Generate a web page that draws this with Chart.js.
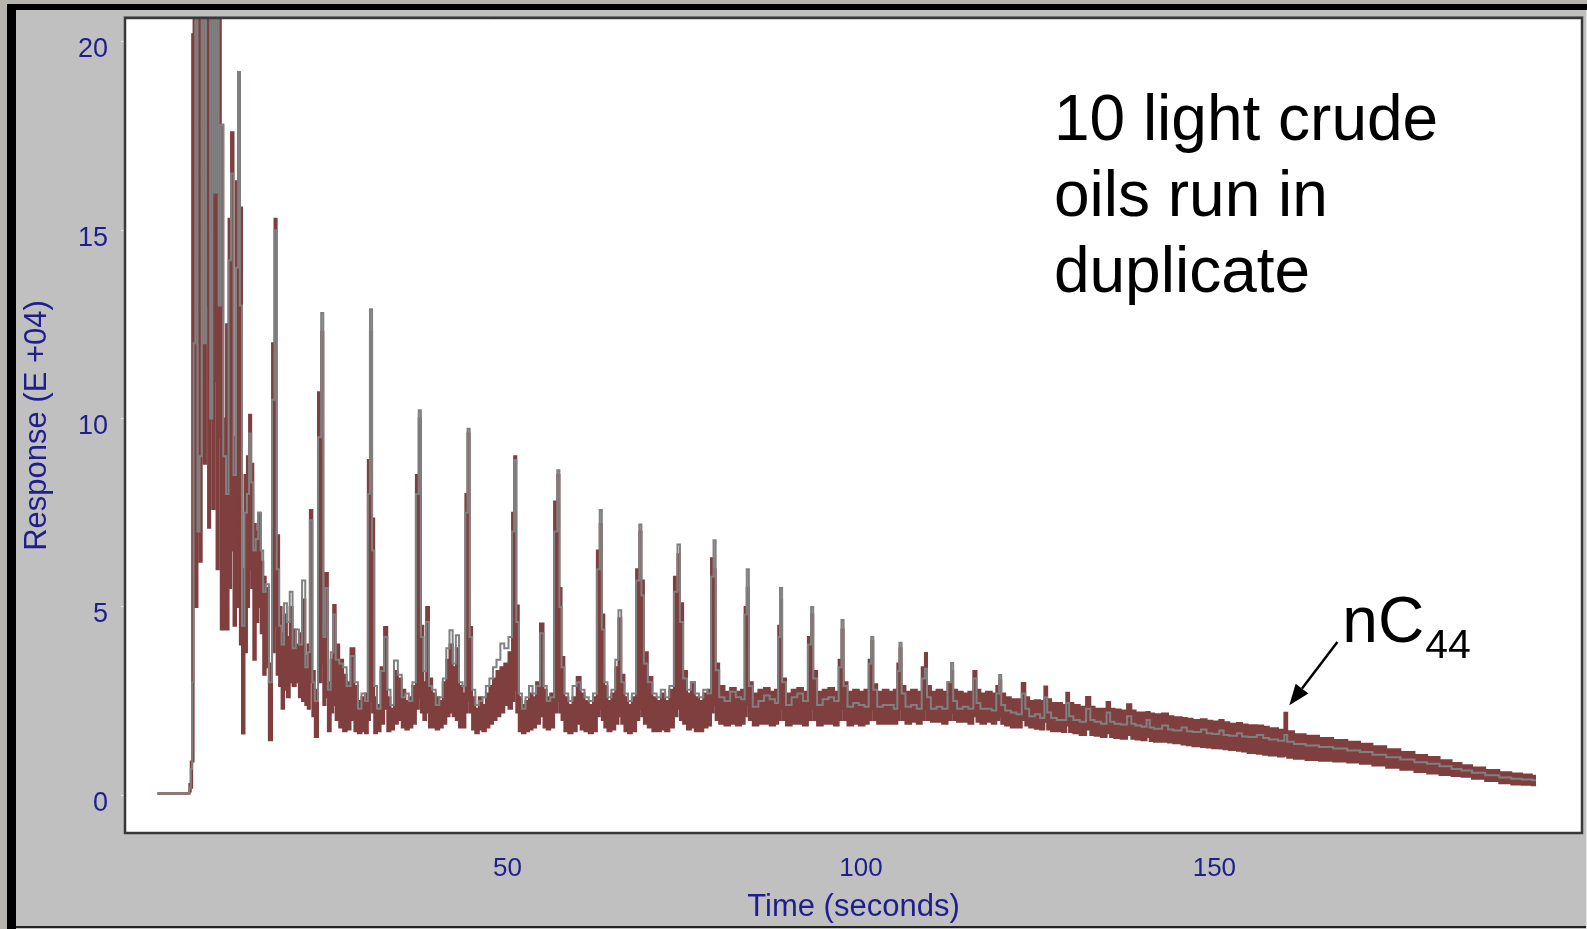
<!DOCTYPE html>
<html>
<head>
<meta charset="utf-8">
<script src="https://cdn.jsdelivr.net/npm/chart.js@4.4.1/dist/chart.umd.min.js"></script>
<style>
  html, body { margin: 0; padding: 0; background: #c0c0c0; overflow: hidden; }
  #wrap { width: 1587px; height: 929px; }
</style>
</head>
<body>
<div id="wrap"><canvas id="chart" width="1587" height="929"></canvas></div>
<script>
// ---- Data ----
const times = [
  0.5, 4.9, 5.1, 5.3, 5.5,
  5.7, 6.0, 6.3, 6.6, 6.9, 7.2, 7.5,
  7.8, 8.1, 8.4, 8.7, 9.0, 9.3, 9.6,
  10.0, 10.4, 10.7, 11.1, 11.4, 11.8, 12.0, 12.3, 12.6, 13.0,
  13.3, 13.6, 13.9, 14.2, 14.6, 14.9, 15.3, 15.6, 16.0, 16.5,
  16.9, 17.2, 17.5, 17.9, 18.2, 18.6, 19.0, 19.4, 19.8, 20.3,
  20.7, 21.2, 21.6, 21.9, 22.2, 22.6, 22.9, 23.5, 23.8, 24.1,
  24.4, 24.8, 25.2, 25.5, 25.9, 26.5, 27.0, 27.5, 28.1, 28.6,
  29.1, 29.6, 30.1, 30.4, 30.7, 31.0, 31.3, 31.8, 32.3, 32.8,
  33.2, 33.7, 34.2, 34.8, 35.3, 35.8, 36.3, 36.8, 37.3, 37.6,
  37.9, 38.3, 38.7, 39.1, 39.6, 40.1, 40.6, 41.1, 41.6, 42.0,
  42.5, 42.9, 43.4, 43.9, 44.2, 44.5, 44.8, 45.2, 45.7, 46.2,
  46.7, 47.2, 47.7, 48.2, 48.7, 49.3, 49.8, 50.5, 50.8, 51.1,
  51.4, 51.8, 52.3, 52.8, 53.3, 53.8, 54.3, 54.9, 55.3, 55.8,
  56.3, 56.9, 57.2, 57.5, 57.8, 58.3, 58.9, 59.5, 60.1, 60.6,
  61.2, 61.8, 62.4, 62.9, 63.2, 63.5, 63.9, 64.4, 65.0, 65.5,
  65.9, 66.3, 66.8, 67.3, 67.9, 68.5, 68.8, 69.1, 69.5, 70.2,
  70.8, 71.4, 72.0, 72.6, 73.2, 73.9, 74.2, 74.6, 75.1, 75.7,
  76.2, 76.8, 77.4, 78.0, 78.6, 79.0, 79.3, 79.6, 80.3, 81.1,
  81.9, 82.7, 83.4, 83.7, 84.0, 84.3, 85.1, 85.9, 86.7, 87.5,
  88.2, 88.4, 88.7, 89.0, 89.8, 90.6, 91.4, 92.2, 92.8, 93.1,
  93.4, 94.2, 95.0, 95.8, 96.6, 97.1, 97.4, 97.7, 98.5, 99.3,
  100.1, 100.9, 101.3, 101.6, 101.9, 102.7, 103.5, 104.3, 105.0, 105.3,
  105.6, 105.9, 106.7, 107.5, 108.3, 108.9, 109.2, 109.5, 110.3, 111.1,
  111.9, 112.6, 112.9, 113.2, 114.0, 114.8, 115.6, 116.2, 116.5, 117.3,
  118.1, 118.9, 119.4, 119.7, 120.0, 120.8, 121.6, 122.4, 123.1, 123.4,
  124.2, 125.0, 125.7, 126.2, 126.5, 127.3, 128.1, 128.8, 129.3, 129.6,
  130.5, 131.4, 132.3, 132.6, 133.5, 134.4, 135.1, 135.4, 136.3, 137.2,
  138.1, 138.4, 139.3, 140.1, 140.7, 141.0, 141.9, 143.3, 143.6, 144.8,
  145.9, 146.3, 147.5, 148.7, 149.1, 150.3, 151.1, 151.5, 152.7, 153.7,
  154.1, 155.3, 156.7, 157.1, 158.3, 159.7, 160.1, 160.5, 162.0, 163.8,
  165.8, 167.8, 169.8, 171.4, 173.3, 175.3, 177.3, 179.3, 180.9, 182.8,
  184.3, 185.6, 187.3, 189.3, 191.3, 192.7, 194.3, 195.5
];

// upper envelope of the brown (duplicate-run) traces
const upperRed = [
  0.05, 0.05, 0.3, 0.9, 20.2,
  25, 25, 25, 25, 25, 25, 25,
  25, 25, 25, 25, 25, 25, 17.8,
  10, 12.5, 15.3, 17.6, 9.5, 16.3, 19.2, 15.6, 6, 8.5,
  9.0, 10.1, 8.8, 7.2, 7.0, 7.5, 6.2, 5.8, 5.5, 3.5,
  12.0, 15.3, 6.9, 5.0, 4.3, 4.8, 4.2, 5.0, 4.4, 4.0,
  4.3, 5.2, 3.7, 4.0, 7.57, 3.3, 2.8, 10.7, 12.3, 4.5,
  5.9, 3.0, 3.6, 5.05, 4.0, 3.6, 3.2, 3.0, 3.9, 2.9,
  2.5, 2.6, 2.7, 8.9, 12.3, 7.35, 2.6, 2.4, 3.4, 4.47,
  2.6, 2.3, 3.3, 3.1, 2.8, 2.5, 2.6, 2.9, 8.5, 10.0,
  4.5, 3.0, 5.0, 3.1, 2.7, 2.6, 2.5, 3.0, 3.6, 4.0,
  3.4, 3.9, 2.9, 2.7, 8.0, 9.6, 4.47, 2.6, 2.3, 2.6,
  2.4, 2.7, 2.9, 3.1, 3.3, 3.4, 3.5, 3.8, 7.5, 9.0,
  5.04, 2.6, 2.4, 2.5, 2.7, 2.6, 3.0, 4.56, 2.8, 2.6,
  2.7, 7.8, 8.5, 5.5, 3.67, 2.6, 2.4, 2.6, 3.14, 2.7,
  2.5, 2.4, 2.6, 6.5, 7.2, 4.8, 2.9, 2.5, 2.7, 3.4,
  4.7, 3.2, 2.6, 2.4, 2.6, 6.0, 7.0, 5.7, 3.8, 3.14,
  2.6, 2.5, 2.7, 2.5, 2.8, 5.8, 6.4, 5.1, 3.3, 2.7,
  3.0, 2.6, 2.5, 2.7, 2.8, 6.29, 6.0, 3.5, 2.9, 2.75,
  2.85, 2.75, 2.8, 5.0, 5.5, 3.0, 2.7, 2.8, 2.85, 2.75,
  2.8, 4.5, 5.2, 3.1, 2.7, 2.8, 2.85, 2.75, 4.2, 4.8,
  3.3, 2.75, 2.8, 2.85, 2.75, 3.6, 4.4, 3.0, 2.75, 2.8,
  2.75, 2.8, 3.6, 4.1, 2.95, 2.75, 2.8, 2.75, 2.8, 3.5,
  3.9, 2.9, 2.75, 2.8, 2.75, 3.4, 3.78, 2.9, 2.75, 2.8,
  2.75, 3.0, 3.3, 2.8, 2.75, 2.7, 2.75, 3.3, 2.8, 2.7,
  2.75, 2.7, 2.9, 3.05, 2.7, 2.6, 2.55, 2.55, 2.98, 2.6,
  2.5, 2.52, 2.5, 2.89, 2.55, 2.45, 2.45, 2.4, 2.72, 2.45,
  2.4, 2.35, 2.61, 2.35, 2.3, 2.3, 2.48, 2.3, 2.28, 2.25,
  2.42, 2.25, 2.2, 2.2, 2.21, 2.17, 2.15, 2.17, 2.1, 2.07,
  2.05, 2.03, 2.0, 2.02, 1.98, 1.96, 2.0, 1.94, 1.9, 1.92,
  1.88, 1.86, 1.85, 1.82, 1.78, 1.74, 2.19, 1.7, 1.62, 1.58,
  1.52, 1.47, 1.42, 1.37, 1.3, 1.22, 1.15, 1.07, 1.02, 0.93,
  0.86, 0.8, 0.74, 0.67, 0.61, 0.58, 0.55, 0.52
];

// lower envelope of the brown traces
const lowerRed = [
  0.05, 0.05, 0.1, 0.2, 0.9,
  18.6, 5.0, 12, 6.2, 16, 8.8, 13,
  7.1, 15, 7.6, 11, 6.0, 9.5, 4.4,
  4.4, 4.4, 5.5, 6.5, 4.5, 5.0, 8, 4.0, 1.64, 3.8,
  5.0, 6.0, 5.5, 3.6, 4.6, 5.0, 4.3, 3.2, 3.4, 1.46,
  3.8, 4.5, 3.2, 2.9, 2.3, 2.8, 2.6, 3.0, 2.9, 3.0,
  2.6, 2.5, 2.4, 2.3, 3.0, 2.1, 1.55, 3.0, 3.5, 2.4,
  2.6, 1.7, 2.2, 2.4, 2.0, 1.8, 1.7, 1.75, 2.0, 1.7,
  1.65, 1.7, 1.65, 2.0, 2.5, 2.2, 1.65, 1.7, 1.9, 2.3,
  1.7, 1.75, 1.9, 2.0, 1.8, 1.75, 1.8, 1.9, 2.3, 2.6,
  2.2, 2.0, 2.2, 1.8, 1.8, 1.75, 1.8, 1.9, 2.1, 2.2,
  2.1, 2.0, 1.8, 1.8, 2.2, 2.5, 2.2, 1.75, 1.65, 1.75,
  1.7, 1.8, 1.9, 2.0, 2.1, 2.2, 2.4, 2.3, 2.5, 2.8,
  2.2, 1.7, 1.65, 1.7, 1.75, 1.8, 1.9, 2.1, 1.8, 1.75,
  1.8, 2.2, 2.5, 2.2, 2.0, 1.7, 1.65, 1.7, 1.9, 1.75,
  1.7, 1.65, 1.7, 2.1, 2.3, 2.0, 1.8, 1.7, 1.75, 1.9,
  2.1, 1.9, 1.7, 1.65, 1.7, 2.0, 2.3, 2.1, 1.9, 1.8,
  1.7, 1.7, 1.75, 1.7, 1.8, 2.1, 2.3, 2.0, 1.9, 1.75,
  1.8, 1.7, 1.7, 1.8, 1.85, 2.2, 2.4, 2.0, 1.9, 1.85,
  1.9, 1.85, 1.9, 2.1, 2.4, 2.0, 1.85, 1.9, 1.9, 1.85,
  1.9, 2.0, 2.3, 2.0, 1.85, 1.9, 1.9, 1.85, 2.0, 2.3,
  2.0, 1.85, 1.9, 1.9, 1.85, 2.0, 2.3, 2.0, 1.85, 1.9,
  1.85, 1.9, 2.0, 2.3, 2.0, 1.9, 1.9, 1.9, 1.9, 2.0,
  2.3, 2.0, 1.9, 1.95, 1.9, 2.0, 2.3, 2.0, 1.95, 1.95,
  1.9, 2.0, 2.2, 2.0, 1.95, 1.95, 1.9, 2.1, 1.95, 1.9,
  1.95, 1.9, 2.0, 2.1, 1.9, 1.85, 1.8, 1.8, 2.0, 1.85,
  1.8, 1.77, 1.75, 1.95, 1.75, 1.7, 1.7, 1.68, 1.85, 1.68,
  1.65, 1.6, 1.75, 1.6, 1.58, 1.55, 1.65, 1.55, 1.52, 1.5,
  1.6, 1.5, 1.48, 1.46, 1.55, 1.44, 1.42, 1.42, 1.4, 1.38,
  1.35, 1.33, 1.3, 1.28, 1.27, 1.25, 1.24, 1.22, 1.2, 1.18,
  1.16, 1.12, 1.1, 1.08, 1.06, 1.03, 1.05, 1.0, 0.97, 0.94,
  0.92, 0.9, 0.87, 0.84, 0.79, 0.73, 0.68, 0.62, 0.58, 0.54,
  0.51, 0.49, 0.44, 0.38, 0.32, 0.29, 0.28, 0.27
];

// grey trace running through the band
const grayTrace = [
  0.05, 0.05, 0.2, 0.7, 3.0,
  12, 25, 7, 9, 25, 12, 25,
  25, 10, 25, 16, 25, 13, 17.8,
  9, 8, 14.2, 16.5, 8.5, 14, 19.2, 13, 4.5, 7.5,
  8.0, 9.6, 8.3, 6.5, 6.8, 7.5, 6.5, 5.4, 5.6, 3.0,
  10.5, 15.0, 6.0, 4.5, 4.0, 5.1, 4.6, 5.4, 3.9, 4.4,
  4.0, 5.7, 3.4, 3.8, 7.3, 3.0, 2.5, 9.5, 12.8, 4.2,
  5.5, 2.8, 3.8, 4.8, 3.6, 3.5, 3.4, 2.9, 3.7, 3.0,
  2.3, 2.7, 2.5, 8.0, 12.9, 6.5, 2.9, 2.3, 3.3, 4.2,
  2.8, 2.4, 3.58, 3.2, 2.6, 2.7, 2.5, 3.0, 8.0, 10.22,
  4.2, 3.3, 4.6, 2.9, 2.8, 2.4, 2.6, 3.1, 3.9, 4.38,
  3.5, 4.25, 3.0, 2.9, 7.5, 9.73, 4.2, 2.8, 2.4, 2.5,
  2.6, 2.9, 3.1, 3.4, 3.6, 4.03, 3.9, 4.2, 7.0, 8.9,
  4.6, 2.7, 2.3, 2.6, 2.9, 2.7, 2.9, 4.3, 2.9, 2.5,
  2.6, 7.0, 8.63, 5.0, 3.4, 2.7, 2.5, 2.9, 3.0, 2.8,
  2.6, 2.5, 2.7, 6.0, 7.57, 4.4, 3.0, 2.6, 2.8, 3.6,
  4.91, 3.0, 2.7, 2.5, 2.7, 5.7, 7.19, 5.3, 3.5, 3.0,
  2.7, 2.6, 2.8, 2.6, 2.9, 5.4, 6.66, 4.6, 3.1, 2.8,
  3.0, 2.7, 2.6, 2.8, 2.7, 5.8, 6.77, 3.32, 2.6, 2.5,
  2.75, 2.6, 2.55, 4.8, 6.0, 2.9, 2.35, 2.5, 2.65, 2.55,
  2.45, 4.2, 5.5, 3.0, 2.4, 2.6, 2.7, 2.5, 4.0, 5.0,
  3.1, 2.4, 2.55, 2.6, 2.5, 3.4, 4.65, 2.9, 2.35, 2.45,
  2.4, 2.35, 3.5, 4.2, 2.8, 2.35, 2.4, 2.4, 2.3, 3.3,
  4.05, 2.7, 2.35, 2.4, 2.3, 3.1, 3.36, 2.6, 2.3, 2.35,
  2.3, 3.0, 3.51, 2.5, 2.3, 2.35, 2.3, 3.1, 2.45, 2.3,
  2.3, 2.25, 2.7, 3.19, 2.4, 2.25, 2.2, 2.15, 2.7, 2.3,
  2.1, 2.15, 2.05, 2.6, 2.2, 2.05, 2.0, 2.0, 2.45, 2.1,
  2.0, 1.95, 2.3, 2.0, 1.95, 1.9, 2.2, 1.95, 1.9, 1.88,
  2.1, 1.9, 1.85, 1.82, 2.0, 1.8, 1.77, 1.85, 1.75, 1.72,
  1.8, 1.7, 1.68, 1.75, 1.65, 1.63, 1.72, 1.6, 1.58, 1.65,
  1.56, 1.55, 1.6, 1.52, 1.48, 1.45, 1.6, 1.42, 1.36, 1.32,
  1.28, 1.24, 1.19, 1.15, 1.08, 1.01, 0.95, 0.88, 0.84, 0.77,
  0.7, 0.66, 0.6, 0.53, 0.47, 0.44, 0.42, 0.4
];

const yTickValues = [0, 5, 10, 15, 20];
const xTickValues = [50, 100, 150];

const noteLines = ['10 light crude', 'oils run in', 'duplicate'];
const noteAnchor = [127.3, 17.4];        // (time, response) of first text baseline
const peakName = 'nC';
const peakSub = '44';
const peakLabelAnchor = [168.1, 4.07];   // (time, response) of label baseline
const arrowFrom = [167.4, 4.07];
const arrowTo = [160.6, 2.39];

// ---- Styling constants ----
const RED = '#7f3f3f';
const GREY = '#808080';
const AXIS_BLUE = '#1e1e8c';

function pts(vals) { return times.map((t, i) => ({ x: t, y: vals[i] })); }

const framePlugin = {
  id: 'frame',
  beforeDraw(chart) {
    const { ctx, width, height, chartArea: a } = chart;
    ctx.save();
    ctx.fillStyle = '#c0c0c0';
    ctx.fillRect(0, 0, width, height);
    ctx.fillStyle = '#b6b2ad';
    ctx.fillRect(0, 0, width, 4);
    ctx.fillRect(0, 0, 7, height);
    ctx.fillStyle = '#000';
    ctx.fillRect(7, 4, width - 7, 6);
    ctx.fillRect(7, 4, 9, height - 4);
    ctx.fillStyle = '#222';
    ctx.fillRect(16, 926, width - 16, 2);
    ctx.fillStyle = '#e4e4e4';
    ctx.fillRect(1586, 10, 1, height - 10);
    ctx.fillStyle = '#fff';
    ctx.fillRect(a.left, a.top, a.right - a.left, a.bottom - a.top);
    ctx.restore();
  },
  afterDatasetsDraw(chart) {
    const { ctx, chartArea: a } = chart;
    ctx.save();
    ctx.strokeStyle = '#8c8c8c';
    ctx.lineWidth = 1;
    ctx.beginPath();
    ctx.moveTo(a.left - 1.5, a.top - 1.5);
    ctx.lineTo(a.right + 1.5, a.top - 1.5);
    ctx.stroke();
    ctx.strokeStyle = '#383838';
    ctx.lineWidth = 2.5;
    ctx.strokeRect(a.left, a.top, a.right - a.left, a.bottom - a.top);
    ctx.restore();
  }
};

const notePlugin = {
  id: 'notes',
  afterDraw(chart) {
    const { ctx, scales: { x, y } } = chart;
    ctx.save();
    ctx.fillStyle = '#000';
    ctx.textBaseline = 'alphabetic';
    ctx.textAlign = 'left';
    ctx.font = '64px "Liberation Sans", Arial, sans-serif';
    const nx = x.getPixelForValue(noteAnchor[0]);
    const ny = y.getPixelForValue(noteAnchor[1]);
    noteLines.forEach((line, i) => ctx.fillText(line, nx, ny + i * 76));

    const lx = x.getPixelForValue(peakLabelAnchor[0]);
    const ly = y.getPixelForValue(peakLabelAnchor[1]);
    ctx.fillText(peakName, lx, ly);
    const w = ctx.measureText(peakName).width;
    ctx.font = '41px "Liberation Sans", Arial, sans-serif';
    ctx.fillText(peakSub, lx + w + 1, ly + 16);

    const x0 = x.getPixelForValue(arrowFrom[0]), y0 = y.getPixelForValue(arrowFrom[1]);
    const x1 = x.getPixelForValue(arrowTo[0]), y1 = y.getPixelForValue(arrowTo[1]);
    const ang = Math.atan2(y1 - y0, x1 - x0);
    const hl = 21, hw = 8;
    const bx = x1 - hl * Math.cos(ang), by = y1 - hl * Math.sin(ang);
    ctx.strokeStyle = '#000';
    ctx.lineWidth = 2.5;
    ctx.beginPath();
    ctx.moveTo(x0, y0);
    ctx.lineTo(bx, by);
    ctx.stroke();
    ctx.beginPath();
    ctx.moveTo(x1, y1);
    ctx.lineTo(bx + hw * Math.sin(ang), by - hw * Math.cos(ang));
    ctx.lineTo(bx - hw * Math.sin(ang), by + hw * Math.cos(ang));
    ctx.closePath();
    ctx.fillStyle = '#000';
    ctx.fill();
    ctx.restore();
  }
};

new Chart(document.getElementById('chart'), {
  type: 'line',
  data: {
    datasets: [
      {
        label: 'grey run',
        data: pts(grayTrace),
        borderColor: GREY,
        borderWidth: 2,
        stepped: 'middle',
        pointRadius: 0,
        fill: false,
        clip: 0
      },
      {
        label: 'brown runs (upper)',
        data: pts(upperRed),
        borderColor: RED,
        backgroundColor: RED,
        borderWidth: 2,
        stepped: 'middle',
        pointRadius: 0,
        fill: '+1',
        clip: 0
      },
      {
        label: 'brown runs (lower)',
        data: pts(lowerRed),
        borderColor: RED,
        borderWidth: 2,
        stepped: 'middle',
        pointRadius: 0,
        fill: false,
        clip: 0
      }
    ]
  },
  options: {
    responsive: false,
    animation: false,
    devicePixelRatio: 1,
    layout: { padding: { left: 0, top: 18, right: 5, bottom: 0 } },
    plugins: { legend: { display: false }, tooltip: { enabled: false } },
    scales: {
      x: {
        type: 'linear',
        min: -4.1,
        max: 202,
        afterBuildTicks: s => { s.ticks = xTickValues.map(v => ({ value: v })); },
        afterFit: s => { s.height = 96; s.paddingLeft = 0; s.paddingRight = 0; },
        grid: { display: false, drawTicks: false },
        border: { display: false },
        ticks: {
          padding: 20,
          color: AXIS_BLUE,
          maxRotation: 0,
          autoSkip: false,
          font: { family: '"Liberation Sans", Arial, sans-serif', size: 26 }
        },
        title: {
          display: true,
          text: 'Time (seconds)',
          color: AXIS_BLUE,
          font: { family: '"Liberation Sans", Arial, sans-serif', size: 31 },
          padding: { top: 0, bottom: 3 }
        }
      },
      y: {
        type: 'linear',
        min: -1.0,
        max: 20.63,
        afterBuildTicks: s => { s.ticks = yTickValues.map(v => ({ value: v })); },
        afterFit: s => { s.width = 125; s.paddingTop = 0; s.paddingBottom = 0; },
        grid: { drawOnChartArea: false, drawTicks: true, tickLength: 4, color: '#e6e6e6', lineWidth: 1 },
        border: { display: false },
        ticks: {
          padding: 13,
          labelOffset: 8,
          color: AXIS_BLUE,
          font: { family: '"Liberation Sans", Arial, sans-serif', size: 27 }
        },
        title: {
          display: true,
          text: 'Response (E +04)',
          color: AXIS_BLUE,
          font: { family: '"Liberation Sans", Arial, sans-serif', size: 31 },
          padding: { top: 19, bottom: 0 }
        }
      }
    }
  },
  plugins: [framePlugin, notePlugin]
});
</script>
</body>
</html>
